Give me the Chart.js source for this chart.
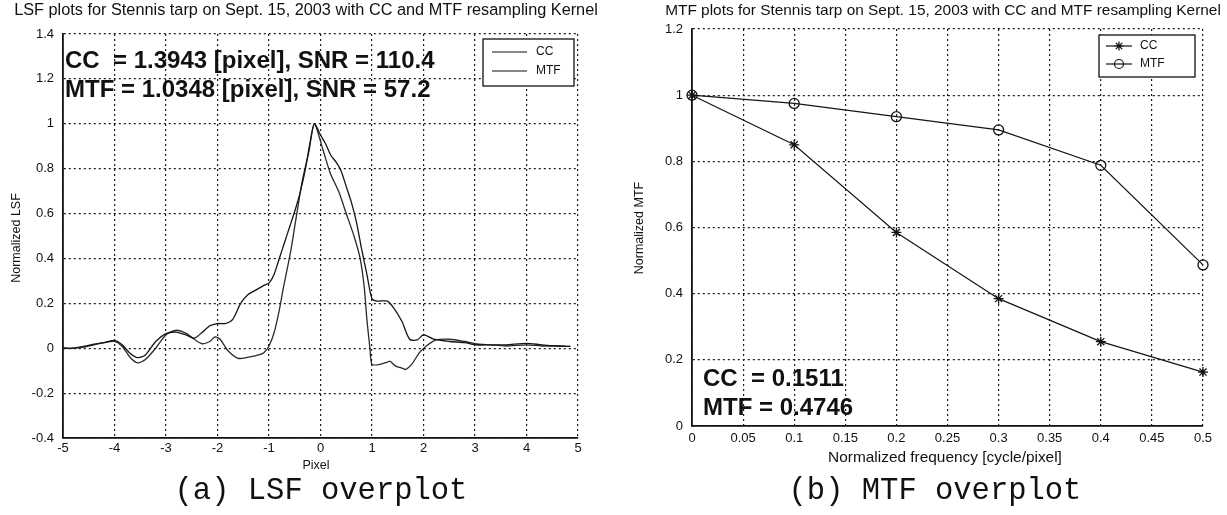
<!DOCTYPE html>
<html><head><meta charset="utf-8">
<script src="https://cdn.jsdelivr.net/npm/chart.js@4.4.0/dist/chart.umd.min.js"></script>
<style>
html,body{margin:0;padding:0;background:#fff;width:1227px;height:515px;overflow:hidden;}
#c1{position:absolute;left:0;top:0;}
#c2{position:absolute;left:614px;top:0;}
.cap{position:absolute;top:476px;height:30px;line-height:30px;width:400px;text-align:center;font-family:"Liberation Mono","DejaVu Sans Mono",monospace;font-size:30.5px;color:#111;white-space:pre;}
</style></head><body>
<canvas id="c1" width="614" height="515"></canvas>
<canvas id="c2" width="613" height="515"></canvas>
<div class="cap" style="left:121px">(a) LSF overplot</div>
<div class="cap" style="left:735px">(b) MTF overplot</div>
<script>
// ---------- DATA: LSF overplot ----------
const lsfCcX = [-5,-4.8,-4.6,-4.4,-4.2,-4.0,-3.85,-3.7,-3.55,-3.4,-3.2,-3.0,-2.8,-2.6,-2.45,-2.3,-2.15,-2.0,-1.85,-1.7,-1.55,-1.4,-1.25,-1.1,-1.0,-0.9,-0.8,-0.7,-0.6,-0.5,-0.4,-0.3,-0.2,-0.12,0.0,0.1,0.2,0.3,0.4,0.5,0.6,0.7,0.8,0.9,1.0,1.1,1.3,1.42,1.58,1.73,1.88,2.0,2.2,2.5,2.8,3.0,3.3,3.6,4.0,4.3,4.6,4.85];
const lsfCcY = [0,0.0,0.008,0.018,0.025,0.035,0.015,-0.022,-0.042,-0.03,0.03,0.065,0.072,0.058,0.045,0.07,0.1,0.11,0.11,0.13,0.2,0.24,0.26,0.28,0.29,0.33,0.4,0.47,0.54,0.61,0.69,0.79,0.92,1.0,0.95,0.91,0.86,0.83,0.79,0.72,0.65,0.56,0.44,0.33,0.22,0.21,0.21,0.18,0.12,0.04,0.037,0.06,0.04,0.03,0.025,0.015,0.015,0.015,0.022,0.015,0.01,0.008];
const lsfMtfX = [-5,-4.8,-4.6,-4.4,-4.2,-4.0,-3.85,-3.7,-3.55,-3.4,-3.2,-3.0,-2.8,-2.6,-2.45,-2.3,-2.15,-2.05,-1.95,-1.8,-1.6,-1.4,-1.2,-1.1,-1.0,-0.9,-0.8,-0.72,-0.58,-0.46,-0.35,-0.23,-0.12,0.04,0.19,0.35,0.5,0.65,0.77,0.85,0.9,0.96,1.0,1.15,1.3,1.35,1.46,1.6,1.65,1.77,1.92,2.04,2.23,2.5,2.8,3.0,3.3,3.6,4.0,4.3,4.6,4.85];
const lsfMtfY = [0,0.0,0.005,0.015,0.025,0.03,0.008,-0.04,-0.065,-0.05,0.0,0.06,0.08,0.065,0.04,0.02,0.03,0.05,0.04,-0.01,-0.045,-0.04,-0.03,-0.02,0.01,0.07,0.17,0.27,0.43,0.6,0.75,0.87,1.0,0.89,0.78,0.7,0.6,0.5,0.4,0.27,0.13,0.0,-0.072,-0.072,-0.062,-0.058,-0.08,-0.09,-0.095,-0.072,-0.02,0.007,0.036,0.04,0.03,0.02,0.015,0.01,0.015,0.01,0.01,0.008];
const lsfXTicks = [-5,-4,-3,-2,-1,0,1,2,3,4,5];
const lsfXTickLabels = ['-5','-4','-3','-2','-1','0','1','2','3','4','5'];
const lsfYTicks = [-0.4,-0.2,0,0.2,0.4,0.6,0.8,1,1.2,1.4];
const lsfYTickLabels = ['-0.4','-0.2','0','0.2','0.4','0.6','0.8','1','1.2','1.4'];
const lsfSeriesNames = ['CC','MTF'];

// ---------- DATA: MTF overplot ----------
const mtfFreq = [0,0.1,0.2,0.3,0.4,0.5];
const mtfCc = [1.0,0.85,0.585,0.385,0.255,0.163];
const mtfMtf = [1.0,0.975,0.935,0.895,0.788,0.487];
const mtfXTicks = [0,0.05,0.1,0.15,0.2,0.25,0.3,0.35,0.4,0.45,0.5];
const mtfXTickLabels = ['0','0.05','0.1','0.15','0.2','0.25','0.3','0.35','0.4','0.45','0.5'];
const mtfYTicks = [0,0.2,0.4,0.6,0.8,1,1.2];
const mtfYTickLabels = ['0','0.2','0.4','0.6','0.8','1','1.2'];
const mtfSeriesNames = ['CC','MTF'];

// ---------- helpers ----------
const SANS = '"Liberation Sans", Arial, sans-serif';
const INK = '#111';
function xy(xs, ys){ return xs.map((x,i)=>({x:x,y:ys[i]})); }

function drawText(ctx, t){
  ctx.save();
  ctx.fillStyle = t.color || INK;
  ctx.textBaseline = 'middle';
  ctx.textAlign = t.align || 'left';
  let size = t.size;
  const w8 = t.weight || 'normal';
  ctx.font = w8 + ' ' + size + 'px ' + SANS;
  if (t.fitWidth){
    const w = ctx.measureText(t.text).width;
    size = size * t.fitWidth / w;
    ctx.font = w8 + ' ' + size.toFixed(2) + 'px ' + SANS;
  }
  ctx.translate(t.x, t.y);
  if (t.rot) ctx.rotate(t.rot);
  ctx.fillText(t.text, 0, 0);
  ctx.restore();
}
function drawMarker(ctx, kind, x, y, r){
  ctx.save();
  ctx.strokeStyle = INK; ctx.lineWidth = 1.2;
  ctx.beginPath();
  if (kind === 'circle'){ ctx.arc(x,y,r,0,Math.PI*2); }
  else if (kind === 'star'){
    ctx.moveTo(x-r,y); ctx.lineTo(x+r,y); ctx.moveTo(x,y-r); ctx.lineTo(x,y+r);
    const d = r*0.7071;
    ctx.moveTo(x-d,y-d); ctx.lineTo(x+d,y+d); ctx.moveTo(x-d,y+d); ctx.lineTo(x+d,y-d);
  }
  ctx.stroke(); ctx.restore();
}

const overlayPlugin = {
  id: 'overlay',
  afterDraw(chart){
    const o = chart.options.plugins.overlay;
    if (!o) return;
    const ctx = chart.ctx;
    (o.texts||[]).forEach(t => drawText(ctx, t));
    const L = o.legend;
    if (L){
      ctx.save();
      ctx.fillStyle = '#fff';
      ctx.fillRect(L.x1, L.y1, L.x2-L.x1, L.y2-L.y1);
      ctx.strokeStyle = INK; ctx.lineWidth = 1.3;
      ctx.strokeRect(L.x1, L.y1, L.x2-L.x1, L.y2-L.y1);
      L.entries.forEach(e => {
        ctx.beginPath(); ctx.moveTo(L.lineX1, e.y); ctx.lineTo(L.lineX2, e.y);
        ctx.lineWidth = 1.2; ctx.strokeStyle = INK; ctx.stroke();
        if (e.marker) drawMarker(ctx, e.marker, (L.lineX1+L.lineX2)/2, e.y, 4.5);
        drawText(ctx, {text:e.label, x:L.textX, y:e.y, size:L.size});
      });
      ctx.restore();
    }
  }
};

function linScale(min, max, vals, labels, pad, opts){
  return Object.assign({
    type:'linear', min:min, max:max,
    afterBuildTicks: s => { s.ticks = vals.map(v => ({value:v})); },
    ticks:{ autoSkip:false, maxRotation:0, color:INK, padding:pad, font:{family:SANS, size:13},
      callback: (v,i) => labels[i] },
    grid:{ color:'#1a1a1a', lineWidth:1.2, drawTicks:false },
    border:{ display:true, color:INK, width:1.8, dash:[2,3] }
  }, opts);
}

Chart.defaults.animation = false;

// ---------- Chart (a) ----------
new Chart(document.getElementById('c1'), {
  type:'line',
  data:{ datasets:[
    { label:lsfSeriesNames[0], data:xy(lsfCcX, lsfCcY), borderColor:'#151515', borderWidth:1.3, pointRadius:0, tension:0.25, fill:false },
    { label:lsfSeriesNames[1], data:xy(lsfMtfX, lsfMtfY), borderColor:'#2a2a2a', borderWidth:1.3, pointRadius:0, tension:0.25, fill:false }
  ]},
  options:{
    responsive:false, animation:false, events:[],
    layout:{ padding:{ left:0, top:34, right:36, bottom:37 } },
    plugins:{ legend:{display:false}, title:{display:false}, tooltip:{enabled:false},
      overlay:{
        texts:[
          {text:'LSF plots for Stennis tarp on Sept. 15, 2003 with CC and MTF resampling Kernel', x:306, y:11, size:13, align:'center', fitWidth:584},
          {text:'CC  = 1.3943 [pixel], SNR = 110.4', x:65, y:61, size:24, weight:'bold'},
          {text:'MTF = 1.0348 [pixel], SNR = 57.2', x:65, y:90, size:24, weight:'bold'},
          {text:'Normalized LSF', x:17, y:238, size:12.5, align:'center', rot:-Math.PI/2},
          {text:'Pixel', x:316, y:466, size:12.5, align:'center'}
        ],
        legend:{ x1:483, y1:39, x2:574, y2:86, lineX1:492, lineX2:527, textX:536, size:12,
          entries:[ {label:lsfSeriesNames[0], y:52}, {label:lsfSeriesNames[1], y:71} ] }
      }
    },
    scales:{
      x: linScale(-5, 5, lsfXTicks, lsfXTickLabels, 3, { afterFit: s => { s.height = 40; } }),
      y: linScale(-0.4, 1.4, lsfYTicks, lsfYTickLabels, 9, { afterFit: s => { s.width = 63; } })
    }
  },
  plugins:[overlayPlugin]
});

// ---------- Chart (b) ----------
new Chart(document.getElementById('c2'), {
  type:'line',
  data:{ datasets:[
    { label:mtfSeriesNames[0], data:xy(mtfFreq, mtfCc), borderColor:'#151515', borderWidth:1.2, tension:0,
      pointStyle:'star', pointRadius:5, pointBorderColor:'#111', pointBorderWidth:1.3, pointBackgroundColor:'#111', fill:false },
    { label:mtfSeriesNames[1], data:xy(mtfFreq, mtfMtf), borderColor:'#151515', borderWidth:1.2, tension:0,
      pointStyle:'circle', pointRadius:5, pointBorderColor:'#111', pointBorderWidth:1.3, pointBackgroundColor:'rgba(0,0,0,0)', fill:false }
  ]},
  options:{
    responsive:false, animation:false, events:[], clip:false,
    layout:{ padding:{ left:0, top:29, right:24, bottom:49 } },
    plugins:{ legend:{display:false}, title:{display:false}, tooltip:{enabled:false},
      overlay:{
        texts:[
          {text:'MTF plots for Stennis tarp on Sept. 15, 2003 with CC and MTF resampling Kernel', x:329, y:11, size:13, align:'center', fitWidth:556},
          {text:'CC  = 0.1511', x:89, y:379, size:24, weight:'bold'},
          {text:'MTF = 0.4746', x:89, y:408, size:24, weight:'bold'},
          {text:'Normalized MTF', x:26, y:228, size:12.5, align:'center', rot:-Math.PI/2},
          {text:'Normalized frequency [cycle/pixel]', x:331, y:458, size:12.5, align:'center', fitWidth:234}
        ],
        legend:{ x1:485, y1:35, x2:581, y2:77, lineX1:492, lineX2:518, textX:526, size:12,
          entries:[ {label:mtfSeriesNames[0], y:46, marker:'star'}, {label:mtfSeriesNames[1], y:64, marker:'circle'} ] }
      }
    },
    scales:{
      x: linScale(0, 0.5, mtfXTicks, mtfXTickLabels, 5, { afterFit: s => { s.height = 40; } }),
      y: linScale(0, 1.2, mtfYTicks, mtfYTickLabels, 9, { afterFit: s => { s.width = 78; } })
    }
  },
  plugins:[overlayPlugin]
});
</script>
</body></html>
